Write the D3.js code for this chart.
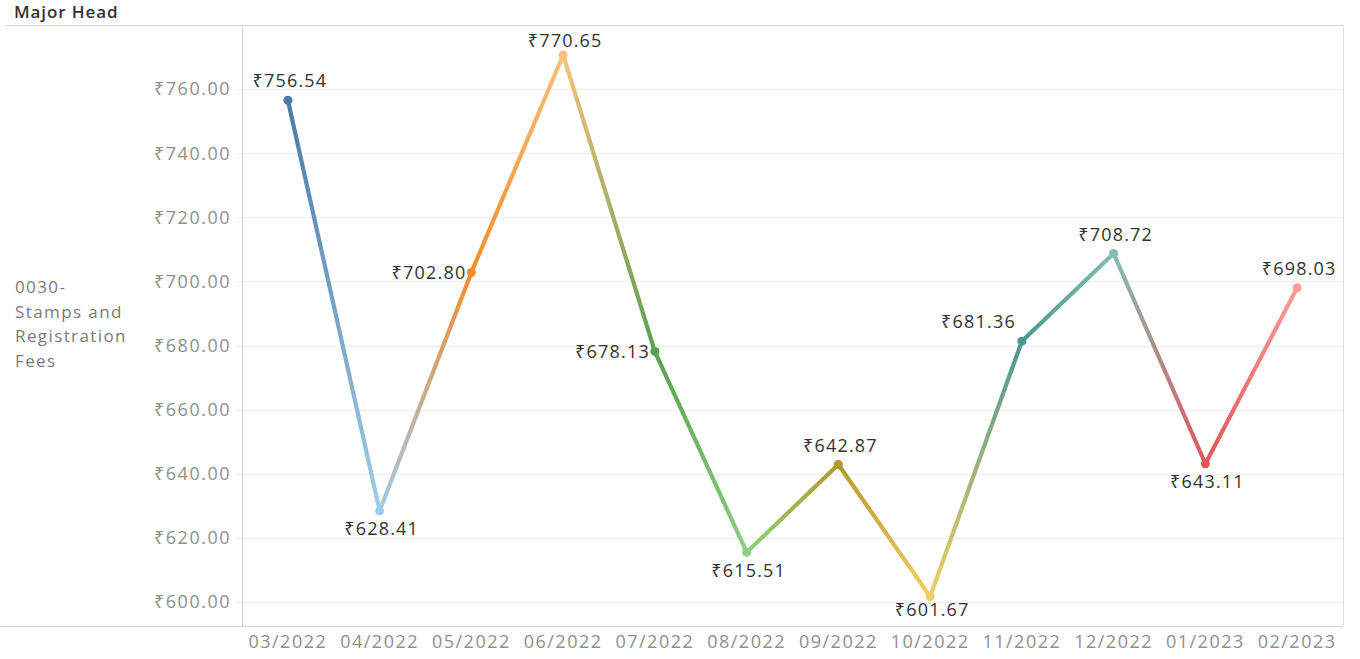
<!DOCTYPE html>
<html>
<head>
<meta charset="utf-8">
<script src="https://cdn.jsdelivr.net/npm/d3@7"></script>
<style>
  html, body { margin: 0; padding: 0; background: #fff; }
  svg { display: block; }
  text { font-family: "Open Sans", "Noto Sans", "DejaVu Sans", sans-serif; }
</style>
</head>
<body>
<svg id="chart" width="1360" height="659"></svg>
<script>
// ---- data ----
const months = ["03/2022","04/2022","05/2022","06/2022","07/2022","08/2022","09/2022","10/2022","11/2022","12/2022","01/2023","02/2023"];
const values = [756.54, 628.41, 702.80, 770.65, 678.13, 615.51, 642.87, 601.67, 681.36, 708.72, 643.11, 698.03];
const colors = ["#4e79a7","#a0cbe8","#f28e2b","#ffbe7d","#59a14f","#8cd17d","#b6992d","#f1ce63","#499894","#86bcb6","#e15759","#ff9d9a"];
const labelSide = ["top","bottom","left","top","left","bottom","top","bottom","topleft","top","bottom","top"];
const yTicks = [600, 620, 640, 660, 680, 700, 720, 740, 760];
const rowHeader = ["0030-","Stamps and","Registration","Fees"];
const headerTitle = "Major Head";

// ---- layout ----
const svg = d3.select("#chart");
const pL = 242, pR = 1343, pT = 25, pB = 626;

const x = d3.scaleBand().domain(months).range([pL, pR]).paddingInner(0).paddingOuter(0);
const y = d3.scaleLinear().domain([592.5, 780]).range([pB, pT]);
const cx = d => x(d) + x.bandwidth() / 2;

// gridlines
svg.append("g").selectAll("line").data(yTicks).join("line")
  .attr("x1", pL - 6).attr("x2", pR)
  .attr("y1", d => Math.round(y(d)) + 0.5).attr("y2", d => Math.round(y(d)) + 0.5)
  .attr("stroke", "#eeeeee").attr("stroke-width", 1);

// frame lines
svg.append("line").attr("x1", 5).attr("x2", pR).attr("y1", pT + 0.5).attr("y2", pT + 0.5).attr("stroke", "#d4d4d4");
svg.append("line").attr("x1", 0).attr("x2", pR).attr("y1", pB + 0.5).attr("y2", pB + 0.5).attr("stroke", "#d4d4d4");
svg.append("line").attr("x1", pL + 0.5).attr("x2", pL + 0.5).attr("y1", pT).attr("y2", pB).attr("stroke", "#d4d4d4");
svg.append("line").attr("x1", pR + 0.5).attr("x2", pR + 0.5).attr("y1", pT).attr("y2", pB).attr("stroke", "#e0e0e0");

// header
svg.append("text").attr("x", 14).attr("y", 18).text(headerTitle)
  .attr("font-size", 17).attr("font-weight", 600).attr("letter-spacing", 0.9).attr("fill", "#333");

// row header
svg.append("g").selectAll("text").data(rowHeader).join("text")
  .attr("x", 15).attr("y", (d, i) => 293 + i * 24.5)
  .attr("font-size", 17).attr("fill", "#7a7a7a").attr("letter-spacing", 1.4)
  .text(d => d);

// y axis labels
const fmtAxis = d => "₹" + d3.format(".2f")(d);
svg.append("g").selectAll("text").data(yTicks).join("text")
  .attr("x", 231).attr("y", d => y(d)).attr("dy", "0.35em")
  .attr("text-anchor", "end").attr("font-size", 18).attr("letter-spacing", 1.5)
  .attr("fill", "#8f8f8f").text(fmtAxis);

// x axis labels
svg.append("g").selectAll("text").data(months).join("text")
  .attr("x", d => cx(d)).attr("y", 642).attr("dy", "0.35em")
  .attr("text-anchor", "middle").attr("font-size", 18).attr("letter-spacing", 1.5)
  .attr("fill", "#8f8f8f").text(d => d);

// gradients + segments
const defs = svg.append("defs");
const pts = months.map((m, i) => ({ m, v: values[i], c: colors[i], side: labelSide[i], px: cx(m), py: y(values[i]) }));
const segs = d3.pairs(pts);
segs.forEach(([a, b], i) => {
  const g = defs.append("linearGradient").attr("id", "g" + i)
    .attr("gradientUnits", "userSpaceOnUse")
    .attr("x1", a.px).attr("y1", a.py).attr("x2", b.px).attr("y2", b.py);
  g.append("stop").attr("offset", "0%").attr("stop-color", a.c);
  g.append("stop").attr("offset", "100%").attr("stop-color", b.c);
});
svg.append("g").selectAll("line").data(segs).join("line")
  .attr("x1", d => d[0].px).attr("y1", d => d[0].py)
  .attr("x2", d => d[1].px).attr("y2", d => d[1].py)
  .attr("stroke", (d, i) => `url(#g${i})`).attr("stroke-width", 4.2).attr("stroke-linecap", "round");

// points
svg.append("g").selectAll("circle").data(pts).join("circle")
  .attr("cx", d => d.px).attr("cy", d => d.py).attr("r", 4.5).attr("fill", d => d.c);

// value labels
const fmtVal = d => "₹" + d3.format(".2f")(d);
svg.append("g").selectAll("text").data(pts).join("text")
  .attr("font-size", 18).attr("letter-spacing", 1.2).attr("fill", "#333")
  .attr("text-anchor", d => d.side === "left" || d.side === "topleft" ? "end" : "middle")
  .attr("x", d => d.side === "left" ? d.px - 5 : d.side === "topleft" ? d.px - 6 : d.px + 2)
  .attr("y", d => {
    const raw = d.side === "top" || d.side === "topleft" ? d.py - 19 : d.side === "bottom" ? d.py + 18 : d.py;
    return Math.min(Math.max(raw, pT + 16), pB - 16);
  })
  .attr("dy", "0.35em")
  .text(d => fmtVal(d.v));
</script>
</body>
</html>
